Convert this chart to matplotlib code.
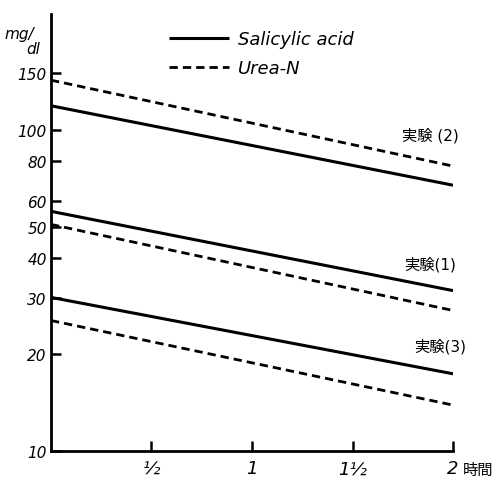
import matplotlib.pyplot as plt
from matplotlib.ticker import FixedLocator, NullLocator

# data (mg/dl at 0 and 2 hours)
hours = [0, 2]
exp1_salicylic = [55.8, 31.6]
exp1_urea = [50.8, 27.4]
exp2_salicylic = [119, 67.3]
exp2_urea = [143, 77.2]
exp3_salicylic = [30.1, 17.4]
exp3_urea = [25.5, 13.9]

y_ticks = [10, 20, 30, 40, 50, 60, 80, 100, 150]
x_ticks = [0.5, 1, 1.5, 2]
x_labels = ['½', '1', '1½', '2']

plt.rcParams['font.family'] = ['DejaVu Sans', 'Noto Sans CJK JP']

fig = plt.figure(figsize=(4.93, 4.81), dpi=100)
ax = fig.add_axes([0.1034, 0.0603, 0.8155, 0.9087])

solid = dict(color='black', lw=2.2, solid_capstyle='butt')
dashed = dict(color='black', lw=2.0, linestyle=(0, (3.0, 1.8)))

ax.plot(hours, exp2_salicylic, **solid, label='Salicylic acid')
ax.plot(hours, exp2_urea, **dashed, label='Urea-N')
ax.plot(hours, exp1_salicylic, **solid)
ax.plot(hours, exp1_urea, **dashed)
ax.plot(hours, exp3_salicylic, **solid)
ax.plot(hours, exp3_urea, **dashed)

ax.set_yscale('log')
ax.set_ylim(10, 230)
ax.set_xlim(0, 2)

ax.yaxis.set_major_locator(FixedLocator(y_ticks))
ax.yaxis.set_minor_locator(NullLocator())
ax.set_yticklabels([str(v) for v in y_ticks], fontstyle='italic', fontsize=11)
ax.xaxis.set_major_locator(FixedLocator(x_ticks))
ax.set_xticklabels(x_labels, fontstyle='italic', fontsize=13)

ax.tick_params(axis='both', direction='in', length=7, width=1.8, pad=3)
ax.tick_params(axis='x', pad=6)
for side in ['top', 'right']:
    ax.spines[side].set_visible(False)
for side in ['left', 'bottom']:
    ax.spines[side].set_linewidth(2.0)

# unit label and time label
ax.text(-0.08, 0.955, 'mg/', transform=ax.transAxes, fontsize=11,
        fontstyle='italic', ha='center', va='center')
ax.text(-0.045, 0.92, 'dl', transform=ax.transAxes, fontsize=11,
        fontstyle='italic', ha='center', va='center')
ax.text(1.025, -0.042, '時間', transform=ax.transAxes, fontsize=11,
        ha='left', va='center')

# experiment labels
ax.text(1.886, 96.4, '実験 (2)', fontsize=11, ha='center', va='center')
ax.text(1.886, 38.4, '実験(1)', fontsize=11, ha='center', va='center')
ax.text(1.935, 21.3, '実験(3)', fontsize=11, ha='center', va='center')

leg = ax.legend(loc='upper left', bbox_to_anchor=(0.254, 1.0), frameon=False,
                handlelength=3.3, handletextpad=0.5, labelspacing=0.6,
                prop={'style': 'italic', 'size': 13})

fig.savefig('out.png', dpi=100)
